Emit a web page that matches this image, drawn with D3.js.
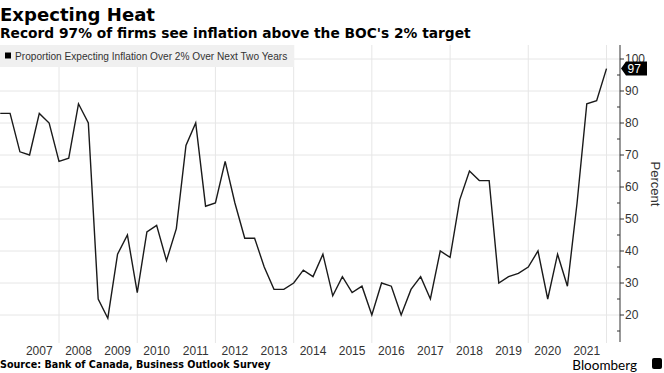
<!DOCTYPE html>
<html>
<head>
<meta charset="utf-8">
<script src="https://cdn.jsdelivr.net/npm/d3@7"></script>
<style>
  html, body { margin: 0; padding: 0; background: #ffffff; }
  svg { display: block; }
</style>
</head>
<body>
<svg id="chart" width="664" height="373"></svg>
<script>
// ---------- DATA ----------
const titleText = "Expecting Heat";
const subtitleText = "Record 97% of firms see inflation above the BOC's 2% target";
const seriesName = "Proportion Expecting Inflation Over 2% Over Next Two Years";
const sourceText = "Source: Bank of Canada, Business Outlook Survey";
const firstQuarter = "2006-07-01"; // first survey observation (quarterly)
const values = [
  83, 83, 71, 70, 83, 80,
  68, 69, 86, 80, 25, 19, 39, 45,
  27, 46, 48, 37, 47, 73, 80, 54,
  55, 68, 55, 44, 44, 35, 28, 28,
  30, 34, 32, 39, 26, 32, 27, 29,
  20, 30, 29, 20, 28, 32, 25, 40,
  38, 56, 65, 62, 62, 30, 32, 33,
  35, 40, 25, 39, 29, 55, 86, 87,
  97
];
const yTicks = [20, 30, 40, 50, 60, 70, 80, 90, 100];
const yMinorTicks = [15, 25, 35, 45, 55, 65, 75, 85, 95];
const yearLabels = [2007, 2008, 2009, 2010, 2011, 2012, 2013, 2014, 2015, 2016, 2017, 2018, 2019, 2020, 2021];
const gridYears = [2008, 2010, 2012, 2014, 2016, 2018, 2020, 2022];

// ---------- SETUP ----------
const svg = d3.select("#chart");
const plot = { left: 0, right: 620, top: 45, bottom: 343 };

const start = new Date(firstQuarter + "T00:00:00");
const data = values.map((v, i) => ({ date: d3.timeMonth.offset(start, 3 * i), value: v }));

const x = d3.scaleTime()
  .domain([new Date(2008, 0, 1), new Date(2022, 0, 1)])
  .range([59, 606.5]);
const y = d3.scaleLinear().domain([20, 100]).range([315, 59]);

// fit a text's font size so it spans a target width
function fitWidth(sel, target) {
  const node = sel.node();
  const fs = parseFloat(sel.attr("font-size"));
  const w = node.getComputedTextLength();
  if (w > 0) sel.attr("font-size", (fs * target / w).toFixed(2));
  return sel;
}

// ---------- GRID ----------
const grid = svg.append("g");
grid.selectAll("line.h").data(yTicks).join("line")
  .attr("x1", plot.left).attr("x2", plot.right)
  .attr("y1", d => y(d)).attr("y2", d => y(d))
  .attr("stroke", "#e6e6e6").attr("stroke-width", 1);
grid.selectAll("line.v").data(gridYears).join("line")
  .attr("x1", d => x(new Date(d, 0, 1))).attr("x2", d => x(new Date(d, 0, 1)))
  .attr("y1", plot.top).attr("y2", plot.bottom)
  .attr("stroke", "#e6e6e6").attr("stroke-width", 1);

// ---------- LINE ----------
const line = d3.line().x(d => x(d.date)).y(d => y(d.value));
svg.append("path").datum(data)
  .attr("d", line)
  .attr("fill", "none")
  .attr("stroke", "#1a1a1a")
  .attr("stroke-width", 1.4)
  .attr("stroke-linejoin", "miter");

// ---------- RIGHT AXIS ----------
const axisG = svg.append("g");
axisG.append("line")
  .attr("x1", plot.right).attr("x2", plot.right)
  .attr("y1", plot.top).attr("y2", plot.bottom - 1)
  .attr("stroke", "#333").attr("stroke-width", 1);
axisG.selectAll("line.maj").data(yTicks).join("line")
  .attr("x1", plot.right).attr("x2", plot.right + 4)
  .attr("y1", d => y(d)).attr("y2", d => y(d))
  .attr("stroke", "#333");
axisG.selectAll("line.min").data(yMinorTicks).join("line")
  .attr("x1", plot.right - 3).attr("x2", plot.right)
  .attr("y1", d => y(d)).attr("y2", d => y(d))
  .attr("stroke", "#333");
axisG.selectAll("text").data(yTicks).join("text")
  .attr("x", plot.right + 5).attr("y", d => y(d))
  .attr("dy", "0.36em")
  .attr("font-family", "Liberation Sans, Arial, sans-serif")
  .attr("font-size", 12).attr("fill", "#333")
  .text(d => d);

svg.append("text")
  .attr("transform", `translate(651, ${y(60) - 3}) rotate(90)`)
  .attr("text-anchor", "middle")
  .attr("font-family", "Liberation Sans, Arial, sans-serif")
  .attr("font-size", 13).attr("fill", "#333")
  .text("Percent");

// last value tag
const last = data[data.length - 1];
const ly = y(last.value);
svg.append("path")
  .attr("d", `M${plot.right + 1},${ly} L${plot.right + 6},${ly - 7} L${plot.right + 27},${ly - 7} L${plot.right + 27},${ly + 7} L${plot.right + 6},${ly + 7} Z`)
  .attr("fill", "#000");
svg.append("text")
  .attr("x", plot.right + 7.5).attr("y", ly).attr("dy", "0.36em")
  .attr("font-family", "Liberation Sans, Arial, sans-serif")
  .attr("font-size", 12).attr("fill", "#fff")
  .text(last.value);

// ---------- X LABELS ----------
svg.append("g").selectAll("text").data(yearLabels).join("text")
  .attr("x", d => x(new Date(d, 6, 1)))
  .attr("y", 355)
  .attr("text-anchor", "middle")
  .attr("font-family", "Liberation Sans, Arial, sans-serif")
  .attr("font-size", 12).attr("fill", "#333")
  .text(d => d);

// ---------- LEGEND ----------
svg.append("rect")
  .attr("x", 0).attr("y", 45).attr("width", 294).attr("height", 22)
  .attr("fill", "#f0f0f0");
svg.append("rect")
  .attr("x", 5).attr("y", 52.5).attr("width", 6).attr("height", 6)
  .attr("fill", "#000");
fitWidth(svg.append("text")
  .attr("x", 15).attr("y", 56).attr("dy", "0.35em")
  .attr("font-family", "Liberation Sans, Arial, sans-serif")
  .attr("font-size", 10).attr("fill", "#333")
  .text(seriesName), 273);

// ---------- TITLES ----------
fitWidth(svg.append("text")
  .attr("x", 0).attr("y", 21)
  .attr("font-family", "DejaVu Sans, sans-serif")
  .attr("font-weight", "bold").attr("font-size", 18).attr("fill", "#000")
  .text(titleText), 155);
fitWidth(svg.append("text")
  .attr("x", 0).attr("y", 38)
  .attr("font-family", "DejaVu Sans, sans-serif")
  .attr("font-weight", "bold").attr("font-size", 14).attr("fill", "#000")
  .text(subtitleText), 471);

// ---------- FOOTER ----------
fitWidth(svg.append("text")
  .attr("x", 0).attr("y", 368)
  .attr("font-family", "DejaVu Sans, sans-serif")
  .attr("font-weight", "bold").attr("font-size", 10).attr("fill", "#000")
  .text(sourceText), 271);
svg.append("text")
  .attr("x", 637).attr("y", 369.5)
  .attr("text-anchor", "end")
  .attr("font-family", "Lato, Liberation Sans, Arial, sans-serif")
  .attr("font-size", 13.5).attr("fill", "#000")
  .text("Bloomberg");
svg.append("rect")
  .attr("x", 652).attr("y", 358).attr("width", 10).attr("height", 11)
  .attr("rx", 2).attr("fill", "#000");
</script>
</body>
</html>
